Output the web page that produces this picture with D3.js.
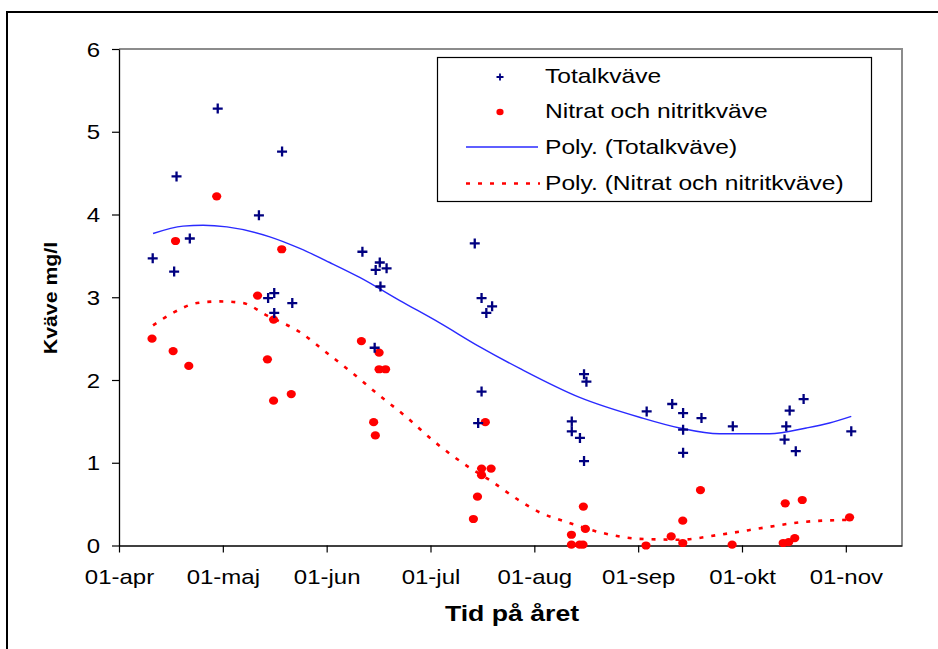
<!DOCTYPE html>
<html>
<head>
<meta charset="utf-8">
<script src="https://cdn.jsdelivr.net/npm/d3@7"></script>
<style>
body{margin:0;background:#fff;}
svg{display:block;font-family:"Liberation Sans",Arial,sans-serif;}
</style>
</head>
<body>
<div id="chart"></div>
<script>
(function(){

// days counted from 01-apr
const totalDay = [9.9,16.2,16.9,20.8,29.0,41.1,43.8,45.6,45.6,47.9,50.9,71.5,76.6,75.4,78.6,76.8,75.1,104.5,106.5,109.6,107.9,106.5,105.5,133.0,133.0,135.4,136.6,137.3,136.6,155.0,162.5,165.7,165.7,165.7,171.1,180.3,195.5,196.0,197.0,198.8,201.1,215.1];
const totalN = [3.47,3.31,4.46,3.71,5.28,3.99,2.99,3.05,2.81,4.76,2.93,3.55,3.42,3.33,3.35,3.13,2.39,3.65,2.99,2.89,2.81,1.86,1.48,1.50,1.38,1.30,2.07,1.98,1.02,1.62,1.71,1.60,1.40,1.12,1.54,1.44,1.28,1.44,1.63,1.14,1.77,1.38];

const nitratDay = [9.7,15.9,16.6,20.5,28.7,40.7,43.6,45.4,45.4,47.8,50.6,71.2,74.8,75.3,76.4,76.4,78.3,104.1,105.3,106.5,106.5,107.6,109.3,132.9,132.9,135.3,136.3,136.4,137.0,154.8,162.2,165.6,165.6,170.8,180.1,195.1,196.7,198.5,195.7,200.7,214.6];
const nitratN = [2.50,2.35,3.68,2.17,4.22,3.02,2.25,2.73,1.75,3.58,1.83,2.47,1.49,1.33,2.33,2.13,2.13,0.32,0.59,0.93,0.85,1.49,0.93,0.13,0.01,0.01,0.01,0.47,0.20,0.00,0.11,0.30,0.03,0.67,0.01,0.03,0.04,0.09,0.51,0.55,0.34];

// trend curves
const polyTotDay = [10.0,18.8,24.7,31.7,44.3,53.1,61.9,70.7,82.5,94.2,106.0,117.7,135.3,152.9,164.7,176.4,191.1,201.9,208.7,215.1];
const polyTot = [3.77,3.86,3.87,3.85,3.73,3.59,3.42,3.24,2.96,2.69,2.40,2.14,1.79,1.55,1.42,1.35,1.35,1.42,1.48,1.56];
const polyNitDay = [10.0,15.8,22.9,29.6,36.4,43.4,53.1,61.0,68.7,76.6,84.5,92.2,103.0,108.9,117.7,123.6,130.3,141.2,152.9,164.7,176.4,190.2,199.9,213.7];
const polyNit = [2.66,2.81,2.93,2.95,2.93,2.78,2.58,2.33,2.08,1.81,1.55,1.27,0.94,0.79,0.54,0.40,0.30,0.16,0.08,0.07,0.13,0.22,0.28,0.31];

const monthLabels = ["01-apr","01-maj","01-jun","01-jul","01-aug","01-sep","01-okt","01-nov"];
const yTicks = [0,1,2,3,4,5,6];

const width = 938;
const height = 649;
const plot = {left:119,right:902,top:49,bottom:545.5};
const sx = 1.2;

const svg = d3.select("#chart")
.append("svg")
.attr("width",width)
.attr("height",height);

svg.append("rect")
.attr("width",width).attr("height",height)
.attr("fill","#fff");

// outer chart frame (runs off the picture)
svg.append("rect")
.attr("x",7).attr("y",12)
.attr("width",width+20).attr("height",height+20)
.attr("fill","none")
.attr("stroke","#000")
.attr("stroke-width",2);

const x = d3.scaleLinear()
.domain([0,230])
.range([plot.left,plot.right]);

const y = d3.scaleLinear()
.domain([0,6])
.range([plot.bottom,plot.top]);

// plot area border
svg.append("path")
.attr("d",`M${plot.left},${plot.top}H${plot.right}V${plot.bottom}`)
.attr("fill","none")
.attr("stroke","#8c8c8c")
.attr("stroke-width",2);

// axes
const xAxis = svg.append("g")
.attr("transform",`translate(0,${plot.bottom})`)
.call(d3.axisBottom(x)
  .tickValues(monthLabels.map((d,i)=>i*30.5))
  .tickSize(7)
  .tickSizeOuter(0)
  .tickFormat((d,i)=>monthLabels[i]));

const yAxis = svg.append("g")
.attr("transform",`translate(${plot.left},0)`)
.call(d3.axisLeft(y)
  .tickValues(yTicks)
  .tickSize(7)
  .tickSizeOuter(0)
  .tickFormat(d3.format("d")));

[xAxis,yAxis].forEach(g=>{
  g.select(".domain").attr("stroke","#000").attr("stroke-width",1.3);
  g.selectAll(".tick line").attr("stroke","#000").attr("stroke-width",1.2);
  g.selectAll("text")
  .attr("font-family","Liberation Sans, Arial, sans-serif")
  .attr("font-size",20)
  .attr("fill","#000");
});

xAxis.selectAll(".tick text")
.attr("y",0).attr("dy",null)
.attr("transform",`translate(0,38) scale(${sx},1)`);

yAxis.selectAll(".tick text")
.attr("x",0).attr("dy",null)
.attr("text-anchor","end")
.attr("transform",`translate(-19,7) scale(${sx},1)`);

// trend lines
const line = d3.line()
.x(d=>x(d[0]))
.y(d=>y(d[1]))
.curve(d3.curveMonotoneX);

svg.append("path")
.datum(polyTotDay.map((d,i)=>[d,polyTot[i]]))
.attr("fill","none")
.attr("stroke","#2a2aff")
.attr("stroke-width",1.4)
.attr("d",line);

svg.append("path")
.datum(polyNitDay.map((d,i)=>[d,polyNit[i]]))
.attr("fill","none")
.attr("stroke","#ff0000")
.attr("stroke-width",2.6)
.attr("stroke-dasharray","4,8")
.attr("d",line);

// nitrat dots
svg.append("g")
.selectAll("ellipse")
.data(nitratDay.map((d,i)=>[d,nitratN[i]]))
.join("ellipse")
.attr("cx",d=>x(d[0]))
.attr("cy",d=>y(d[1]))
.attr("rx",4.6)
.attr("ry",4.1)
.attr("fill","#ff0000");

// totalkväve crosses
const plus = "M-5,0H5M0,-5V5";
svg.append("g")
.selectAll("path")
.data(totalDay.map((d,i)=>[d,totalN[i]]))
.join("path")
.attr("transform",d=>`translate(${x(d[0])},${y(d[1])})`)
.attr("d",plus)
.attr("stroke","#000080")
.attr("stroke-width",2.3);

// legend
const lg = svg.append("g");
lg.append("rect")
.attr("x",437.5).attr("y",57.5)
.attr("width",434).attr("height",144)
.attr("fill","#fff")
.attr("stroke","#000")
.attr("stroke-width",1.2);

const legendItems = ["Totalkväve","Nitrat och nitritkväve","Poly. (Totalkväve)","Poly. (Nitrat och nitritkväve)"];
const rowBase = [83,117.5,154,190];

legendItems.forEach((t,i)=>{
  lg.append("text")
  .attr("transform",`translate(545,${rowBase[i]}) scale(${sx},1)`)
  .attr("font-size",20.5)
  .attr("fill","#000")
  .text(t);
});

lg.append("path")
.attr("d","M-3.5,0H3.5M0,-3.5V3.5")
.attr("transform",`translate(500,${rowBase[0]-6})`)
.attr("stroke","#000080")
.attr("stroke-width",1.8);

lg.append("ellipse")
.attr("cx",500).attr("cy",rowBase[1]-5.5)
.attr("rx",3.6).attr("ry",3.3)
.attr("fill","#ff0000");

lg.append("line")
.attr("x1",466).attr("x2",538)
.attr("y1",rowBase[2]-7).attr("y2",rowBase[2]-7)
.attr("stroke","#2a2aff")
.attr("stroke-width",1.4);

lg.append("line")
.attr("x1",466).attr("x2",540)
.attr("y1",rowBase[3]-6.5).attr("y2",rowBase[3]-6.5)
.attr("stroke","#ff0000")
.attr("stroke-width",2.4)
.attr("stroke-dasharray","4,8");

// axis titles
svg.append("text")
.attr("transform",`translate(512,621) scale(1.24,1)`)
.attr("text-anchor","middle")
.attr("font-size",21.5)
.attr("font-weight","bold")
.text("Tid på året");

svg.append("text")
.attr("transform",`translate(57,298) rotate(-90) scale(1.15,1)`)
.attr("text-anchor","middle")
.attr("font-size",18.5)
.attr("font-weight","bold")
.text("Kväve mg/l");

})();
</script>
</body>
</html>
